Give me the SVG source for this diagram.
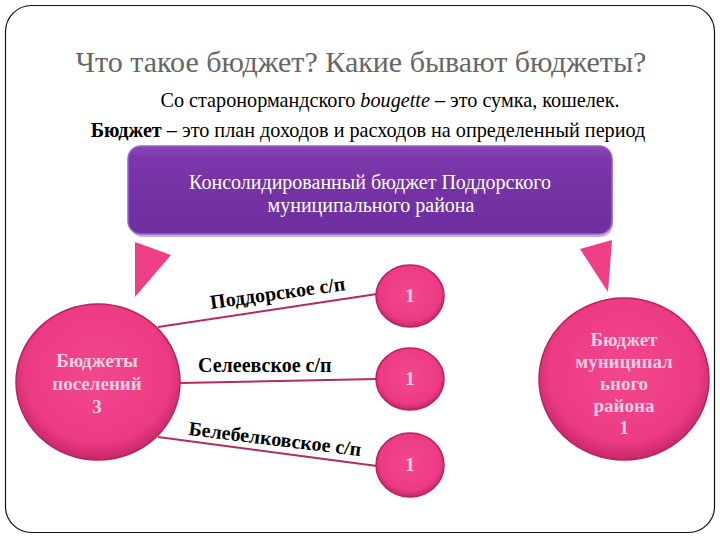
<svg xmlns="http://www.w3.org/2000/svg" width="720" height="540" viewBox="0 0 720 540">
  <style>
    text { font-family: "Liberation Serif", "DejaVu Serif", "Times New Roman", serif; }
    .title { font-size: 30px; fill: #666666; }
    .sub { font-size: 20.2px; fill: #000; }
    .boxtxt { font-size: 20px; fill: #ffffff; }
    .circtxt { font-size: 19px; font-weight: bold; fill: #f9cfe1; }
    .num { font-size: 19px; font-weight: bold; fill: #f9cfe1; }
    .lbl { font-size: 20px; font-weight: bold; fill: #000; }
    .conn { stroke: #b52a62; stroke-width: 2; fill: none; }
    .tri { fill: #ee3f86; }
    .circ { fill: url(#pinkGrad); stroke: #b8235f; stroke-width: 1.5; }
  </style>
  <defs>
    <radialGradient id="pinkGrad" cx="50%" cy="45%" r="55%">
      <stop offset="0" stop-color="#f2478d"/>
      <stop offset="0.8" stop-color="#ec3b84"/>
      <stop offset="1" stop-color="#c8276a"/>
    </radialGradient>
    <linearGradient id="purpleGrad" x1="0" y1="0" x2="0" y2="1">
      <stop offset="0" stop-color="#8a44b6"/>
      <stop offset="0.15" stop-color="#7a36aa"/>
      <stop offset="1" stop-color="#6e2e9e"/>
    </linearGradient>
  </defs>

  <rect x="0" y="0" width="720" height="540" fill="#ffffff"/>
  <rect id="frame" x="5.5" y="5.5" width="709" height="527" rx="26" ry="26" fill="none" stroke="#111" stroke-width="1.2"/>

  <g id="header">
    <text class="title" x="361" y="72" text-anchor="middle">Что такое бюджет? Какие бывают бюджеты?</text>
    <text class="sub" x="390" y="107" text-anchor="middle">Со старонормандского <tspan font-style="italic">bougette</tspan> – это сумка, кошелек.</text>
    <text class="sub" x="368" y="137" text-anchor="middle"><tspan font-weight="bold">Бюджет</tspan> – это план доходов и расходов на определенный период</text>
  </g>

  <g id="consolidated">
    <rect x="130" y="149" width="483" height="88" rx="13" fill="#5a2380" opacity="0.35"/>
    <rect x="128" y="146" width="484" height="88" rx="13" fill="url(#purpleGrad)" stroke="#9d62c8" stroke-width="1.5"/>
    <text class="boxtxt" x="370" y="189" text-anchor="middle">Консолидированный бюджет Поддорского</text>
    <text class="boxtxt" x="371" y="212" text-anchor="middle">муниципального района</text>
  </g>

  <g id="arrows">
    <polygon class="tri" points="135,242 171,255 135,297"/>
    <polygon class="tri" points="580,249 612,240 608,292"/>
  </g>

  <g id="connectors">
    <line class="conn" x1="158" y1="327" x2="377" y2="294"/>
    <line class="conn" x1="180" y1="383" x2="377" y2="379"/>
    <line class="conn" x1="158" y1="437" x2="377" y2="466"/>
    <text class="lbl" transform="translate(211,309) rotate(-8)">Поддорское с/п</text>
    <text class="lbl" x="198" y="372">Селеевское с/п</text>
    <text class="lbl" transform="translate(188,435) rotate(7)">Белебелковское с/п</text>
  </g>

  <g id="settlements">
    <ellipse class="circ" cx="98" cy="382" rx="82" ry="78"/>
    <text class="circtxt" x="97" y="367" text-anchor="middle">Бюджеты</text>
    <text class="circtxt" x="97" y="390" text-anchor="middle">поселений</text>
    <text class="circtxt" x="97" y="413" text-anchor="middle">3</text>
  </g>

  <g id="n1">
    <ellipse class="circ" cx="410" cy="296" rx="34" ry="31"/>
    <text class="num" x="410" y="302" text-anchor="middle">1</text>
  </g>
  <g id="n2">
    <ellipse class="circ" cx="410" cy="379" rx="34" ry="31"/>
    <text class="num" x="410" y="385" text-anchor="middle">1</text>
  </g>
  <g id="n3">
    <ellipse class="circ" cx="410" cy="465" rx="34" ry="32"/>
    <text class="num" x="410" y="471" text-anchor="middle">1</text>
  </g>

  <g id="municipal">
    <ellipse class="circ" cx="624" cy="379" rx="85" ry="81"/>
    <text class="circtxt" x="624" y="346" text-anchor="middle">Бюджет</text>
    <text class="circtxt" x="624" y="368" text-anchor="middle">муниципал</text>
    <text class="circtxt" x="624" y="390" text-anchor="middle">ьного</text>
    <text class="circtxt" x="624" y="412" text-anchor="middle">района</text>
    <text class="circtxt" x="624" y="434" text-anchor="middle">1</text>
  </g>
</svg>
